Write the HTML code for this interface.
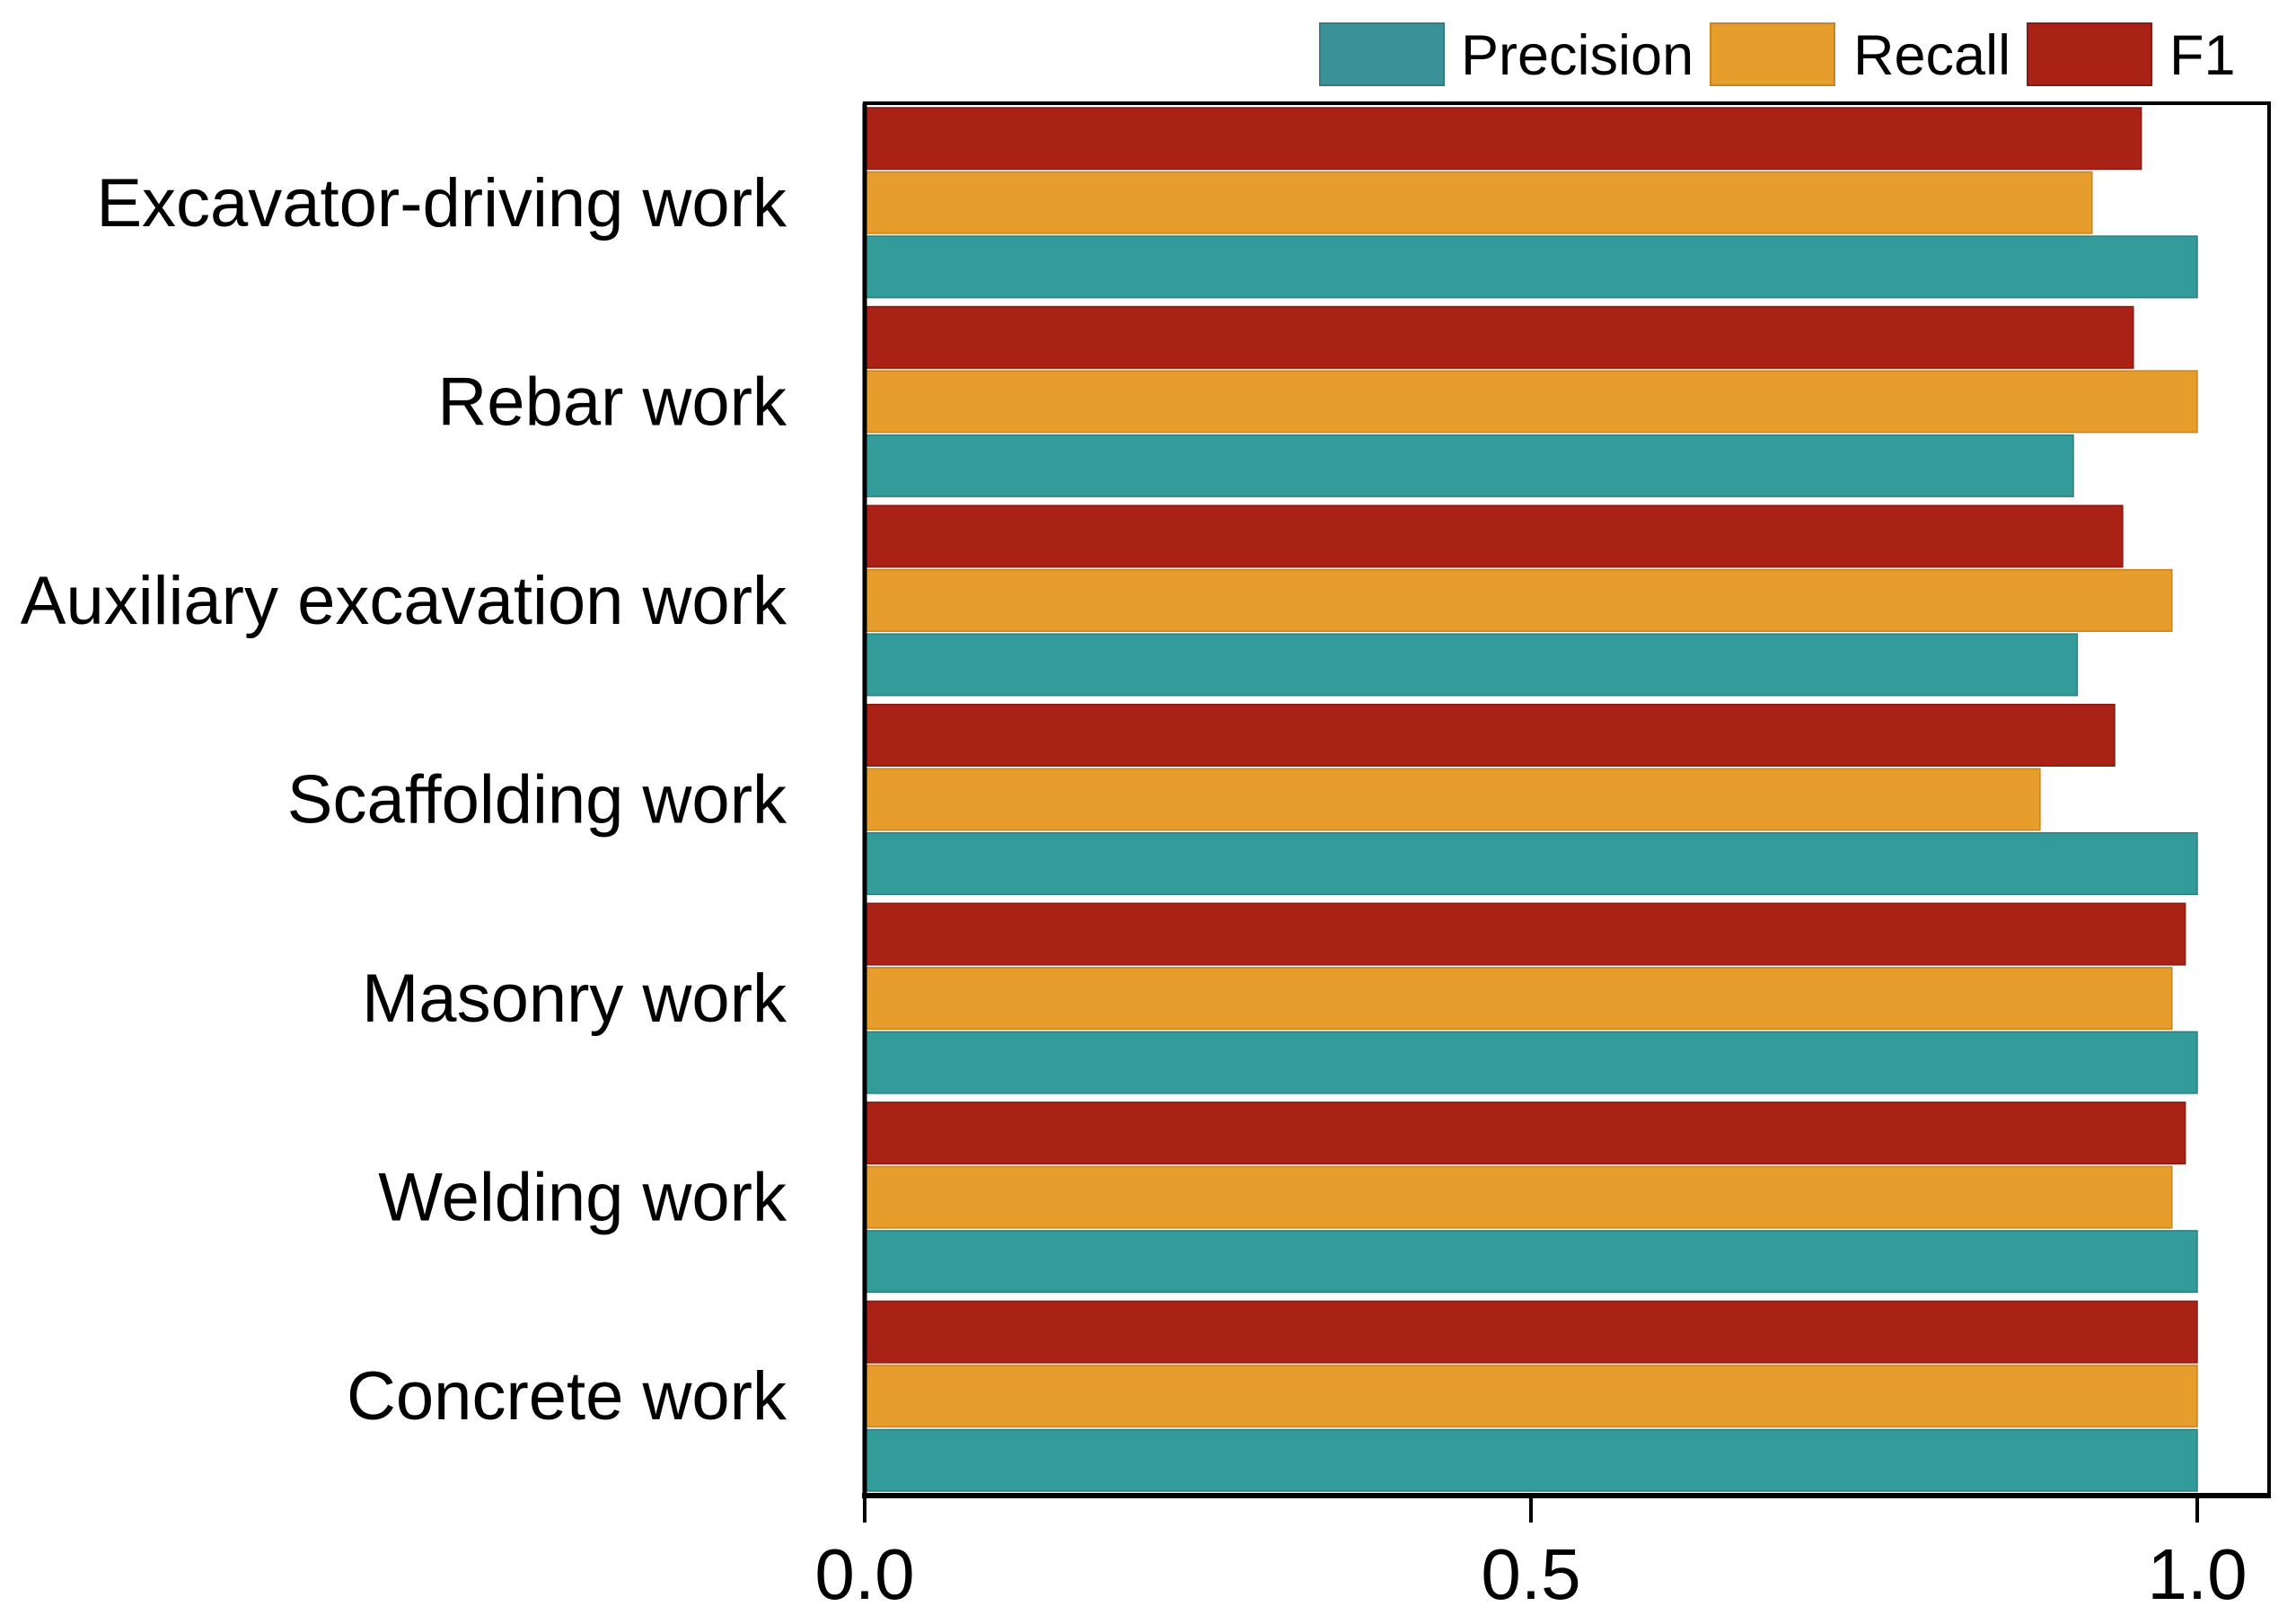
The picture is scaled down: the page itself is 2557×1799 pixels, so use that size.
<!DOCTYPE html>
<html><head><meta charset="utf-8"><style>
html,body{margin:0;padding:0;background:#fff;}
svg{display:block;font-family:"Liberation Sans",Arial,sans-serif;}
</style></head><body>
<svg id="chart" width="2557" height="1799" viewBox="0 0 2557 1799" xmlns="http://www.w3.org/2000/svg">
<g id="legend">
  <rect x="1470" y="26" width="138" height="69" fill="#3a9198" stroke="#2f7d83" stroke-width="2"/>
  <text x="1627" y="83" font-size="63">Precision</text>
  <rect x="1905" y="26" width="138" height="69" fill="#e79d2c" stroke="#c8841e" stroke-width="2"/>
  <text x="2064" y="83" font-size="63">Recall</text>
  <rect x="2258" y="26" width="138" height="69" fill="#a92215" stroke="#8a1a10" stroke-width="2"/>
  <text x="2416" y="83" font-size="63">F1</text>
</g>
<g id="bars"></g>
<g id="axes"></g>
</svg>
<script>
const categories = ["Excavator-driving work","Rebar work","Auxiliary excavation work","Scaffolding work","Masonry work","Welding work","Concrete work"];
const f1Values = [0.958,0.952,0.944,0.938,0.991,0.991,1.0];
const recallValues = [0.921,1.0,0.981,0.882,0.981,0.981,1.0];
const precisionValues = [1.0,0.907,0.910,1.0,1.0,1.0,1.0];
const tickValues = [0,0.5,1.0];
const tickLabels = ["0.0","0.5","1.0"];

const NS="http://www.w3.org/2000/svg";
const X0=963, X1=2447, TOP=115, BOT=1666, RIGHT=2527;
const band=(BOT-TOP)/categories.length;
function xs(v){return X0+(X1-X0)*v;}
function yBand(i){return TOP+band*i;}
function mk(tag,attrs,parent){const e=document.createElementNS(NS,tag);for(const k in attrs)e.setAttribute(k,attrs[k]);parent.appendChild(e);return e;}
const bars=document.getElementById('bars'), axes=document.getElementById('axes');
const series=[{vals:f1Values,fill:"#a92215",stroke:"#8a1a10",n:"f1"},{vals:recallValues,fill:"#e79d2c",stroke:"#c8841e",n:"recall"},{vals:precisionValues,fill:"#339b99",stroke:"#2a7f80",n:"precision"}];
const pad=5, bh=(band-2*pad-6)/3;
categories.forEach((c,i)=>{
  series.forEach((s,j)=>{
    const y=yBand(i)+pad+j*(bh+3);
    const r=mk('rect',{x:X0,y:y,width:xs(s.vals[i])-X0,height:bh,fill:s.fill,stroke:s.stroke,'stroke-width':1.5},bars);
    
    
  });
  const t=mk('text',{x:876,y:yBand(i)+band/2+26,'font-size':76,'text-anchor':'end',fill:'#000'},axes);
  t.textContent=c;
  
  
});
const frame=mk('rect',{x:X0,y:TOP,width:RIGHT-X0,height:BOT-TOP,fill:'none',stroke:'#000','stroke-width':4},axes);


const xl=mk('line',{x1:X0-3,y1:BOT,x2:RIGHT+2,y2:BOT,stroke:'#000','stroke-width':6},axes);


const yl=mk('line',{x1:X0,y1:TOP,x2:X0,y2:BOT,stroke:'#000','stroke-width':5},axes);


tickValues.forEach((v,k)=>{
  const tk=mk('line',{x1:xs(v),y1:BOT,x2:xs(v),y2:BOT+30,stroke:'#000','stroke-width':4},axes);
  
  
  const tl=mk('text',{x:xs(v),y:1781,'font-size':80,'text-anchor':'middle',fill:'#000'},axes);
  tl.textContent=tickLabels[k];
  
  
});
</script>
</body></html>
